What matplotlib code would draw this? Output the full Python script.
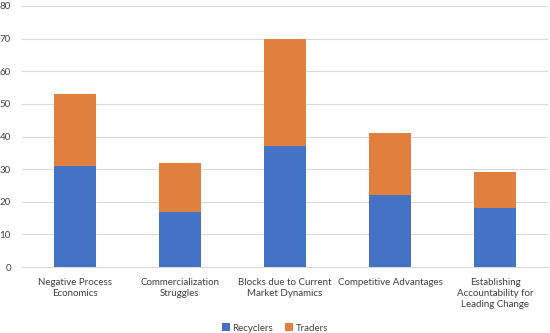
import matplotlib.pyplot as plt

# Chart data
categories = [
    "Negative Process\nEconomics",
    "Commercialization\nStruggles",
    "Blocks due to Current\nMarket Dynamics",
    "Competitive Advantages",
    "Establishing\nAccountability for\nLeading Change",
]
recyclers = [31, 17, 37, 22, 18]
traders = [22, 15, 33, 19, 11]
y_ticks = [0, 10, 20, 30, 40, 50, 60, 70, 80]

plt.rcParams["font.family"] = ["Lato", "DejaVu Sans"]

fig = plt.figure(figsize=(5.5, 3.33), dpi=100)
ax = fig.add_axes([0.04, 0.198, 0.956, 0.784])

x = range(len(categories))
ax.bar(x, recyclers, width=0.4, color="#4472C4", label="Recyclers", zorder=3)
ax.bar(x, traders, width=0.4, bottom=recyclers, color="#E07F3E",
       label="Traders", zorder=3)

ax.set_xlim(-0.5, len(categories) - 0.5)
ax.set_ylim(0, 80)
ax.set_yticks(y_ticks)
ax.set_xticks(list(x))
ax.set_xticklabels(categories, fontsize=7, color="#404040", va="top",
                   linespacing=1.3)
ax.tick_params(axis="y", labelsize=7, labelcolor="#404040", length=0, pad=8)
ax.tick_params(axis="x", length=0, pad=8)

ax.grid(axis="y", color="#D9D9D9", linewidth=0.8, zorder=0)
for side in ["top", "right", "left"]:
    ax.spines[side].set_visible(False)
ax.spines["bottom"].set_color("#D9D9D9")

fig.legend(loc="lower center", bbox_to_anchor=(0.5, -0.025), ncol=2,
           frameon=False, fontsize=7, handlelength=0.8, handleheight=0.8,
           columnspacing=1.2, handletextpad=0.3, labelcolor="#404040")

fig.savefig("out.png", dpi=100)
